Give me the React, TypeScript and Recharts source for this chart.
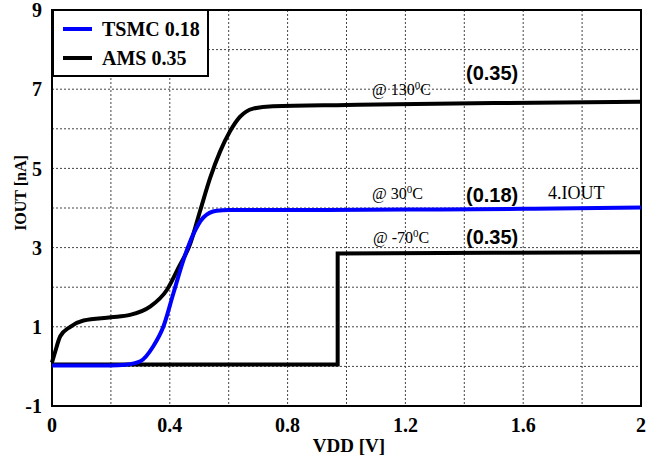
import { LineChart, Line, XAxis, YAxis, CartesianGrid, ReferenceArea } from 'recharts';

// AMS 0.35 @ 130°C
const hotVdd = [0, 0.01, 0.028, 0.062, 0.107, 0.2, 0.265, 0.333, 0.39, 0.43, 0.469, 0.503, 0.537, 0.571, 0.604, 0.638, 0.683, 0.75, 1.0, 1.5, 2.0];
const hotIout = [0.1, 0.35, 0.76, 1.0, 1.16, 1.24, 1.3, 1.51, 1.93, 2.5, 3.09, 3.93, 4.76, 5.43, 5.93, 6.3, 6.51, 6.57, 6.6, 6.65, 6.68];

// TSMC 0.18 @ 30°C (4.IOUT)
const midVdd = [0, 0.1, 0.2, 0.25, 0.3, 0.344, 0.378, 0.412, 0.446, 0.48, 0.514, 0.559, 0.6, 0.8, 1.2, 1.6, 2.0];
const midIout = [0.02, 0.02, 0.02, 0.04, 0.13, 0.51, 1.0, 1.84, 2.68, 3.34, 3.76, 3.93, 3.95, 3.95, 3.96, 3.98, 4.01];

// AMS 0.35 @ -70°C
const coldVdd = [0, 0.97, 0.97, 1.5, 2.0];
const coldIout = [0.05, 0.05, 2.85, 2.87, 2.88];

const xTicks = [0, 0.2, 0.4, 0.6, 0.8, 1.0, 1.2, 1.4, 1.6, 1.8, 2.0];
const xLabels = [0, 0.4, 0.8, 1.2, 1.6, 2.0];
const yTicks = [-1, 0, 1, 2, 3, 4, 5, 6, 7, 8, 9];
const yLabels = [-1, 1, 3, 5, 7, 9];

const toPoints = (xs: number[], ys: number[]) => xs.map((x, i) => ({ x, y: ys[i] }));

const hot = toPoints(hotVdd, hotIout);
const mid = toPoints(midVdd, midIout);
const cold = toPoints(coldVdd, coldIout);

const serif = '"Liberation Serif", "Times New Roman", serif';
const sans = '"Liberation Sans", Arial, sans-serif';
const tickStyle = { fontFamily: serif, fontWeight: 700, fontSize: 20, fill: '#000' };

const fmtX = (v: number) => (xLabels.some(l => Math.abs(l - v) < 1e-6) ? String(Math.round(v * 10) / 10) : '');
const fmtY = (v: number) => (yLabels.includes(v) ? String(v) : '');

function TempLabel({ x, y, pre }: { x: number; y: number; pre: string }) {
    return (
        <text x={x} y={y} fontFamily={serif} fontSize={16} fill="#000">
            {pre}
            <tspan dy={-6} fontSize={11}>0</tspan>
            <tspan dy={6}>C</tspan>
        </text>
    );
}

function Overlay() {
    return (
        <svg width={657} height={459} style={{ position: 'absolute', left: 0, top: 0, pointerEvents: 'none' }}>
            {/* legend box */}
            <rect x={53} y={10} width={155} height={66} fill="#fff" stroke="#000" strokeWidth={2} />
            <line x1={63} x2={92} y1={29} y2={29} stroke="#0000ff" strokeWidth={4} />
            <line x1={63} x2={92} y1={58} y2={58} stroke="#000" strokeWidth={4} />
            <text x={102} y={36} fontFamily={serif} fontWeight={700} fontSize={20} fill="#000">TSMC 0.18</text>
            <text x={102} y={65} fontFamily={serif} fontWeight={700} fontSize={20} fill="#000">AMS 0.35</text>

            <TempLabel x={372} y={95} pre="@ 130" />
            <TempLabel x={372} y={199} pre="@ 30" />
            <TempLabel x={373} y={243} pre="@ -70" />

            <text x={466} y={80} fontFamily={sans} fontWeight={700} fontSize={20} fill="#000">(0.35)</text>
            <text x={466} y={202} fontFamily={sans} fontWeight={700} fontSize={20} fill="#000">(0.18)</text>
            <text x={466} y={244} fontFamily={sans} fontWeight={700} fontSize={20} fill="#000">(0.35)</text>
            <text x={548} y={199} fontFamily={serif} fontSize={18} fill="#000">4.IOUT</text>

            <text x={349} y={452} textAnchor="middle" fontFamily={serif} fontWeight={700} fontSize={19} fill="#000">VDD [V]</text>
            <text x={26} y={193} textAnchor="middle" transform="rotate(-90 26 193)" fontFamily={serif} fontWeight={700} fontSize={16} fill="#000">IOUT [nA]</text>
        </svg>
    );
}

export default function App() {
    return (
        <div style={{ position: 'absolute', left: 0, top: 0, width: 657, height: 459, background: '#fff' }}>
            <LineChart width={657} height={459} margin={{ top: 10, right: 16, bottom: 0, left: 0 }}>
                <CartesianGrid strokeDasharray="2 2" stroke="#444" strokeWidth={1} />
                <XAxis
                    dataKey="x"
                    type="number"
                    domain={[0, 2]}
                    ticks={xTicks}
                    tickFormatter={fmtX}
                    tick={tickStyle}
                    tickLine={false}
                    axisLine={false}
                    height={53}
                    interval={0}
                    dy={4}
                    allowDuplicatedCategory={false}
                />
                <YAxis
                    type="number"
                    domain={[-1, 9]}
                    ticks={yTicks}
                    tickFormatter={fmtY}
                    tick={tickStyle}
                    tickLine={false}
                    axisLine={false}
                    width={52}
                    interval={0}
                    dx={-2}
                />
                <ReferenceArea x1={0} x2={2} y1={-1} y2={9} fill="none" stroke="#000" strokeWidth={2} />
                <Line data={cold} dataKey="y" type="linear" stroke="#000" strokeWidth={4} dot={false} isAnimationActive={false} />
                <Line data={hot} dataKey="y" type="monotone" stroke="#000" strokeWidth={4} dot={false} isAnimationActive={false} />
                <Line data={mid} dataKey="y" type="monotone" stroke="#0000ff" strokeWidth={4} dot={false} isAnimationActive={false} />
            </LineChart>
            <Overlay />
        </div>
    );
}
